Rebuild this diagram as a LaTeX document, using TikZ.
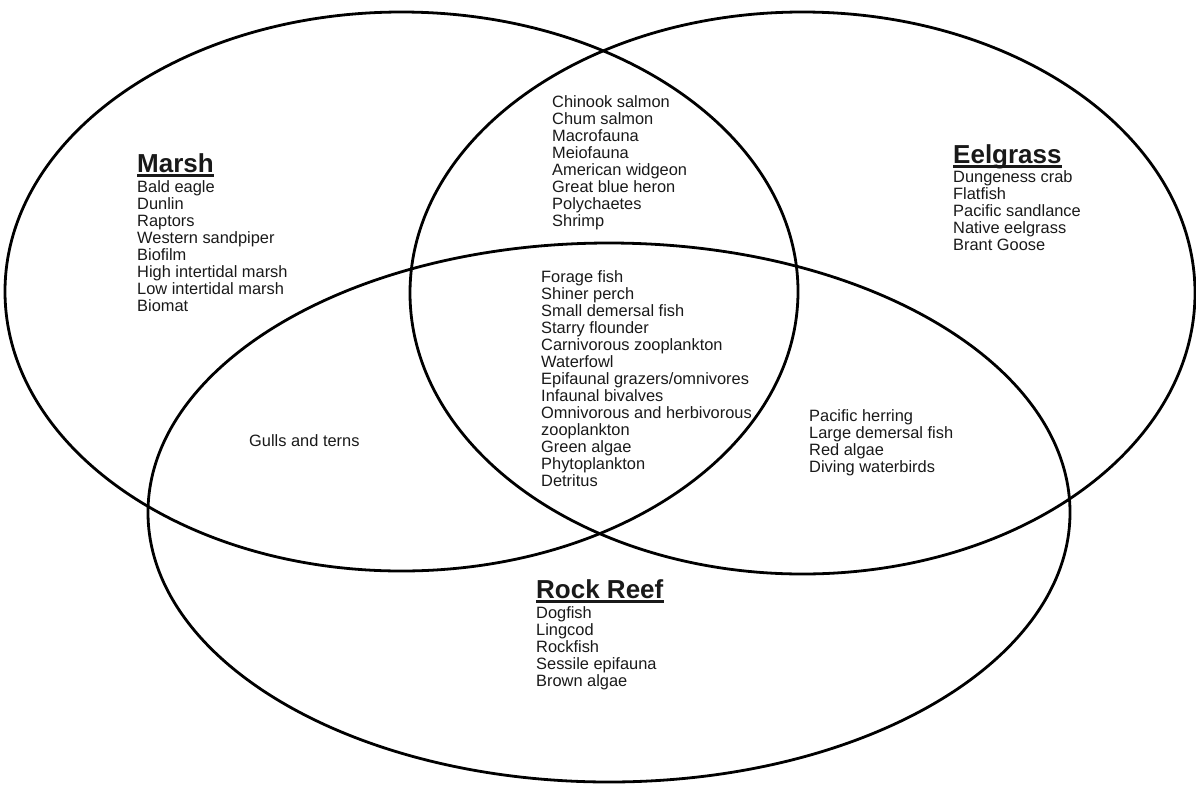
\documentclass[tikz,border=0pt]{standalone}
\usepackage{fontspec}
\setmainfont{Liberation Sans}
\usepackage{tikz}
\definecolor{ringInk}{RGB}{0,0,0}
\definecolor{textInk}{RGB}{25,25,25}

\tikzset{
  habitat/.style={draw=ringInk,line width=2.8pt},
  item/.style={anchor=base west,inner sep=0pt,text=textInk,font=\fontsize{16.4}{17}\selectfont},
  heading/.style={anchor=base west,inner sep=0pt,text=textInk,font=\fontsize{26}{30}\selectfont\bfseries},
  rule/.style={draw=textInk,line width=2.5pt}
}

\begin{document}
\begin{tikzpicture}[x=1pt,y=-1pt]
      \useasboundingbox (0,0) rectangle (1196,785);
      \draw[habitat] (401.5,291.5) ellipse [x radius=396.5,y radius=279.5];
      \draw[habitat] (802.5,293) ellipse [x radius=392.5,y radius=281];
      \draw[habitat] (609,512.5) ellipse [x radius=461,y radius=269.5];
      % headings
      \node[heading] (marsh) at (137,172) {Marsh};
      \node[heading] (eelgrass) at (953,163) {Eelgrass};
      \node[heading] (rockreef) at (536,598) {Rock Reef};
      \foreach \h in {marsh,eelgrass,rockreef}
        \draw[rule] ([yshift=-3.3pt]\h.base west) -- ([yshift=-3.3pt]\h.base east);
      % lists
      \foreach \t [count=\i from 0] in {Bald eagle,Dunlin,Raptors,Western sandpiper,Biofilm,
        High intertidal marsh,Low intertidal marsh,Biomat}
        \node[item] (ma\i) at (137,{192+17*\i}) {\t};
      \foreach \t [count=\i from 0] in {Dungeness crab,Flatfish,Pacific sandlance,Native eelgrass,Brant Goose}
        \node[item] (ee\i) at (953,{182+17*\i}) {\t};
      \foreach \t [count=\i from 0] in {Dogfish,Lingcod,Rockfish,Sessile epifauna,Brown algae}
        \node[item] (ro\i) at (536,{618+17*\i}) {\t};
      \foreach \t [count=\i from 0] in {Chinook salmon,Chum salmon,Macrofauna,Meiofauna,American widgeon,
        Great blue heron,Polychaetes,Shrimp}
        \node[item] (me\i) at (552,{107+17*\i}) {\t};
      \foreach \t [count=\i from 0] in {Forage fish,Shiner perch,Small demersal fish,Starry flounder,
        Carnivorous zooplankton,Waterfowl,Epifaunal grazers/omnivores,Infaunal bivalves,
        Omnivorous and herbivorous,zooplankton,Green algae,Phytoplankton,Detritus}
        \node[item] (all\i) at (541,{282+17*\i}) {\t};
      \foreach \t [count=\i from 0] in {Pacific herring,Large demersal fish,Red algae,Diving waterbirds}
        \node[item] (er\i) at (809,{421+17*\i}) {\t};
      \node[item] (mr0) at (249,446) {Gulls and terns};
    \end{tikzpicture}
\end{document}
